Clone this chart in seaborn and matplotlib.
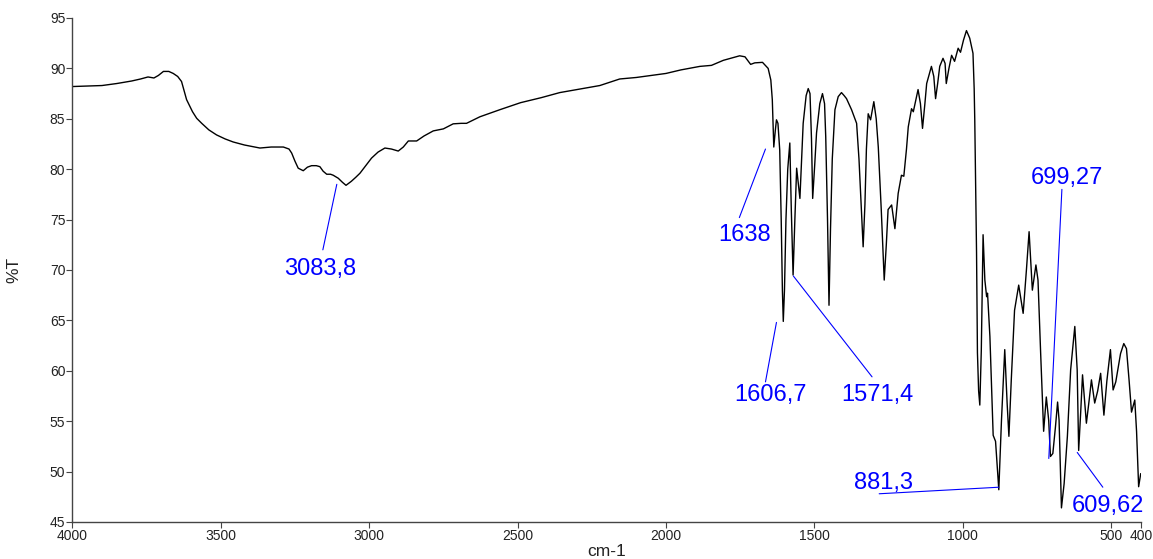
import numpy as np
import pandas as pd
import matplotlib
matplotlib.use("Agg")
import matplotlib.pyplot as plt
import seaborn as sns

# ---- spectrum data (wavenumber cm-1, %T) ----
wavenumber = [
    4000, 3950, 3900, 3850, 3800, 3770, 3745, 3725, 3710, 3693, 3675, 3660, 3645, 3632,
    3615, 3595, 3581, 3564, 3540, 3514, 3485, 3458, 3420, 3368, 3330, 3289, 3270, 3261,
    3250, 3239, 3222, 3208, 3194, 3178, 3166, 3155, 3143, 3130, 3121, 3104, 3090, 3078,
    3060, 3045, 3031, 3010, 2992, 2970, 2947, 2925, 2902, 2885, 2868, 2840, 2815, 2784,
    2750, 2717, 2690, 2672, 2627, 2560, 2490, 2420, 2358, 2300, 2223, 2156, 2100, 2050,
    2000, 1950, 1886, 1847, 1807, 1770, 1752, 1734, 1715, 1701, 1675, 1656, 1647, 1642,
    1637, 1632, 1628, 1623, 1617, 1612, 1608, 1605, 1601, 1596, 1590, 1583, 1578, 1572,
    1566, 1560, 1549, 1538, 1528, 1521, 1515, 1510, 1506, 1499, 1493, 1482, 1473, 1466,
    1462, 1456, 1451, 1446, 1440, 1431, 1420, 1409, 1400, 1392, 1375, 1358, 1350, 1342,
    1336, 1330, 1325, 1319, 1311, 1300, 1292, 1285, 1275, 1265, 1258, 1252, 1240, 1229,
    1218, 1207, 1199, 1190, 1184, 1173, 1167, 1151, 1143, 1136, 1128, 1122, 1106, 1098,
    1092, 1085, 1078, 1067, 1060, 1056, 1047, 1038, 1028, 1016, 1008, 998, 988, 977,
    966, 962, 960, 954, 951, 947, 943, 938, 932, 926, 920, 917, 909, 898, 890, 879,
    870, 859, 851, 845, 837, 826, 812, 797, 786, 777, 766, 754, 747, 738, 728, 719,
    711, 705, 697, 688, 681, 676, 668, 659, 648, 637, 623, 615, 610, 603, 597, 590,
    584, 575, 567, 556, 546, 536, 525, 515, 503, 494, 485, 469, 458, 449, 440, 432,
    421, 415, 408, 401,
]
transmittance = [
    88.2, 88.25, 88.3, 88.5, 88.75, 88.95, 89.15, 89.05, 89.3, 89.7, 89.7, 89.5, 89.2, 88.7,
    86.9, 85.7, 85.05, 84.55, 83.9, 83.4, 83.0, 82.7, 82.4, 82.1, 82.2, 82.2, 82.0, 81.6,
    80.8, 80.1, 79.85, 80.2, 80.35, 80.35, 80.25, 79.8, 79.5, 79.5, 79.4, 79.1, 78.7, 78.4,
    78.8, 79.2, 79.6, 80.4, 81.1, 81.7, 82.1, 82.0, 81.8, 82.2, 82.8, 82.8, 83.3, 83.8,
    84.0, 84.5, 84.55, 84.55, 85.2, 85.9, 86.6, 87.1, 87.6, 87.9, 88.3, 88.95, 89.1, 89.3,
    89.5, 89.85, 90.2, 90.3, 90.8, 91.1, 91.25, 91.15, 90.4, 90.55, 90.6, 90.0, 88.85, 86.9,
    82.2, 83.8, 84.9, 84.55, 81.9, 75.0, 68.0, 64.9, 68.0, 75.0, 80.0, 82.6, 76.0, 69.5,
    75.0, 80.1, 77.1, 84.55, 87.3, 88.0, 87.5, 83.0, 77.1, 80.5, 83.6, 86.5, 87.5, 86.5,
    83.2, 75.0, 66.5, 74.0, 81.0, 85.9, 87.2, 87.6, 87.3, 87.0, 85.9, 84.55, 81.0, 76.0,
    72.3, 76.5, 82.0, 85.5, 84.9, 86.7, 85.0, 82.2, 76.0, 69.0, 72.5, 76.0, 76.45, 74.1,
    77.6, 79.4, 79.3, 82.0, 84.2, 86.0, 85.7, 87.9, 86.5, 84.05, 86.5, 88.5, 90.2, 89.2,
    87.0, 88.5, 90.2, 91.0, 90.5, 88.5, 90.0, 91.3, 90.7, 92.0, 91.6, 92.8, 93.75, 93.0,
    91.5, 88.0, 84.9, 71.7, 61.8, 58.0, 56.6, 62.0, 73.5, 69.0, 67.35, 67.7, 63.4, 53.6, 53.0, 48.2,
    55.1, 62.1, 56.8, 53.5, 59.1, 66.0, 68.5, 65.7, 70.0, 73.8, 68.0, 70.5, 69.0, 61.7, 54.0, 57.4,
    55.1, 51.5, 51.8, 54.5, 56.9, 55.1, 46.4, 48.8, 53.5, 60.1, 64.4, 60.1, 52.1, 56.0, 59.6, 57.0,
    54.8, 57.0, 59.1, 56.8, 58.0, 59.75, 55.6, 59.0, 62.1, 58.1, 58.9, 61.7, 62.7, 62.2, 59.0, 55.9,
    57.1, 54.0, 48.5, 49.8,
]

# ---- peak labels ----
peak_labels = ["3083,8", "1638", "1606,7", "1571,4", "881,3", "699,27", "609,62"]
# text centre x / baseline y (data units)
label_x = [3166, 1736, 1648, 1288, 1269, 650, 513]
label_y = [69.5, 72.9, 57.03, 57.03, 48.24, 78.53, 46.02]
# leader line: start (near text) -> end (on peak)
line_x0 = [3156, 1753, 1665, 1306, 1282, 666.5, 528.6]
line_y0 = [72.0, 75.2, 58.9, 59.4, 47.8, 78.0, 48.45]
line_x1 = [3109, 1665, 1628, 1571, 879, 710.6, 614.8]
line_y1 = [78.5, 82.0, 64.8, 69.4, 48.45, 51.3, 51.9]

x_ticks = [4000, 3500, 3000, 2500, 2000, 1500, 1000, 500, 400]
y_ticks = [45, 50, 55, 60, 65, 70, 75, 80, 85, 90, 95]

sns.set_theme(style="ticks")
plt.rcParams["font.family"] = ["Liberation Sans", "DejaVu Sans"]

fig = plt.figure(figsize=(11.53, 5.59), dpi=100)
ax = fig.add_axes([0.0627, 0.0662, 0.9269, 0.9016])

df = pd.DataFrame({"cm-1": wavenumber, "%T": transmittance})
sns.lineplot(data=df, x="cm-1", y="%T", sort=False, estimator=None,
             color="black", linewidth=1.0, ax=ax)

for t, tx, ty, x0, y0, x1, y1 in zip(peak_labels, label_x, label_y,
                                     line_x0, line_y0, line_x1, line_y1):
    ax.plot([x0, x1], [y0, y1], color="#0000ff", linewidth=0.8)
    ax.text(tx, ty, t, color="#0000ff", fontsize=17, ha="center", va="baseline")

ax.set_xlim(4000, 400)
ax.set_ylim(45, 95)
ax.set_xticks(x_ticks)
ax.set_xticklabels([str(v) for v in x_ticks])
ax.set_yticks(y_ticks)
ax.set_yticklabels([str(v) for v in y_ticks])

sns.despine(ax=ax)
for s in ("left", "bottom"):
    ax.spines[s].set_color("#444444")
    ax.spines[s].set_linewidth(1.0)
ax.tick_params(axis="both", direction="out", length=4, width=0.8,
               color="#444444", labelsize=10, labelcolor="#222222", pad=1)

ax.set_xlabel("cm-1", fontsize=12.5, color="#222222", labelpad=1)
ax.set_ylabel("%T", fontsize=12.5, color="#222222")
ax.yaxis.set_label_coords(-0.048, 0.5)

fig.savefig("out.png", dpi=100)
